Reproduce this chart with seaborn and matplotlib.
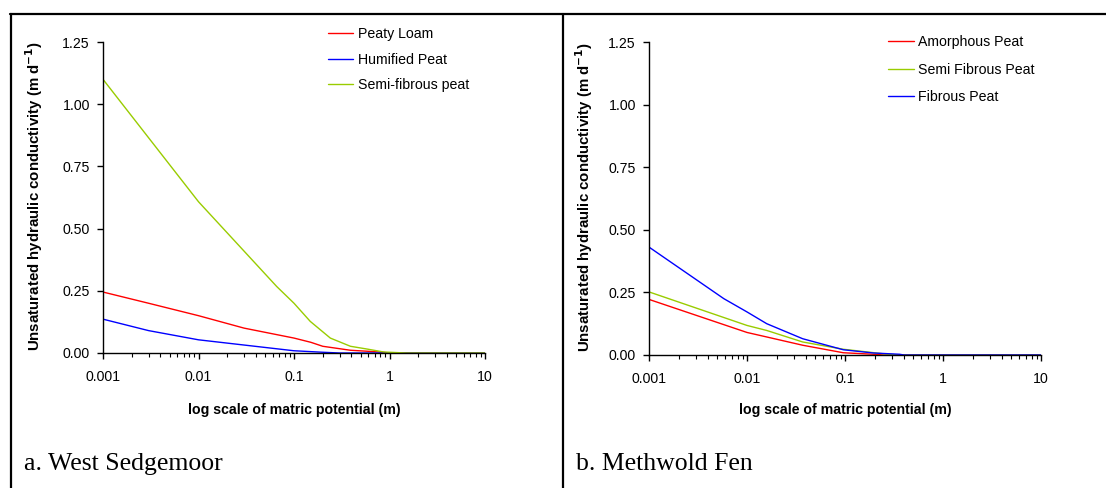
import numpy as np
import pandas as pd
import matplotlib
matplotlib.use("Agg")
import matplotlib.pyplot as plt
from matplotlib.lines import Line2D
from matplotlib.ticker import FixedLocator, FuncFormatter, LogLocator, NullFormatter
import seaborn as sns

# ---------------- data ----------------
# Panel a: West Sedgemoor
loam_x = [0.001, 0.003, 0.01, 0.03, 0.1, 0.15, 0.2, 0.39, 0.8, 1.0, 10]
loam_y = [0.245, 0.20, 0.15, 0.10, 0.06, 0.043, 0.027, 0.011, 0.004, 0.0, 0.0]
humified_x = [0.001, 0.003, 0.01, 0.03, 0.1, 0.2, 0.3, 10]
humified_y = [0.136, 0.09, 0.053, 0.032, 0.009, 0.003, 0.0, 0.0]
semifib_a_x = [0.001, 0.01, 0.066, 0.1, 0.148, 0.24, 0.39, 0.58, 0.87, 1.5, 10]
semifib_a_y = [1.10, 0.608, 0.267, 0.20, 0.127, 0.06, 0.027, 0.016, 0.004, 0.0, 0.0]
series_a = ["Peaty Loam", "Humified Peat", "Semi-fibrous peat"]

# Panel b: Methwold Fen
amorph_x = [0.001, 0.01, 0.0159, 0.037, 0.096, 0.195, 0.25, 10]
amorph_y = [0.222, 0.09, 0.072, 0.039, 0.009, 0.003, 0.0, 0.0]
semifib_b_x = [0.001, 0.01, 0.0159, 0.037, 0.096, 0.245, 0.35, 10]
semifib_b_y = [0.252, 0.118, 0.098, 0.052, 0.023, 0.005, 0.0, 0.0]
fibrous_x = [0.001, 0.0058, 0.01, 0.0159, 0.037, 0.096, 0.195, 0.36, 0.4, 10]
fibrous_y = [0.431, 0.225, 0.172, 0.125, 0.065, 0.021, 0.008, 0.003, 0.0, 0.0]
series_b = ["Amorphous Peat", "Semi Fibrous Peat", "Fibrous Peat"]

yticks = [0.0, 0.25, 0.5, 0.75, 1.0, 1.25]
xticks = [0.001, 0.01, 0.1, 1, 10]
xticklabels = ["0.001", "0.01", "0.1", "1", "10"]

RED = "#FF0000"
BLUE = "#0000FF"
GREEN = "#99CC00"

def long_df(names, xs, ys):
    rows = []
    for n, x, y in zip(names, xs, ys):
        for xi, yi in zip(x, y):
            rows.append((n, xi, yi))
    return pd.DataFrame(rows, columns=["series", "psi", "k"])

df_a = long_df(series_a, [loam_x, humified_x, semifib_a_x], [loam_y, humified_y, semifib_a_y])
df_b = long_df(series_b, [amorph_x, semifib_b_x, fibrous_x], [amorph_y, semifib_b_y, fibrous_y])

sns.set_theme(style="white")
plt.rcParams["font.family"] = ["Liberation Sans", "DejaVu Sans"]

fig = plt.figure(figsize=(11.06, 4.88), dpi=100)
ax_a = fig.add_axes([103/1106, 1-353/488, 382/1106, 311/488])
ax_b = fig.add_axes([649/1106, 1-355/488, 392/1106, 313/488])

def style(ax, df, names, colors, leg_anchor, labelspacing, ylab_x, xlab_y):
    sns.lineplot(data=df, x="psi", y="k", hue="series", hue_order=names,
                 palette=colors, estimator=None, sort=False, linewidth=1.0, ax=ax)
    ax.set_xscale("log")
    ax.set_xlim(0.001, 10)
    ax.set_ylim(0, 1.25)
    ax.xaxis.set_major_locator(FixedLocator(xticks))
    ax.xaxis.set_major_formatter(FuncFormatter(lambda v, p: xticklabels[xticks.index(v)] if v in xticks else ""))
    ax.xaxis.set_minor_locator(LogLocator(base=10, subs=np.arange(2, 10)))
    ax.xaxis.set_minor_formatter(NullFormatter())
    ax.yaxis.set_major_locator(FixedLocator(yticks))
    ax.yaxis.set_major_formatter(FuncFormatter(lambda v, p: f"{v:.2f}"))
    for s in ["top", "right"]:
        ax.spines[s].set_visible(False)
    for s in ["left", "bottom"]:
        ax.spines[s].set_color("black")
        ax.spines[s].set_linewidth(1.0)
    ax.tick_params(axis="both", which="major", direction="out", length=4, width=1,
                   color="black", labelsize=10.2, labelcolor="black", left=True, bottom=True)
    ax.tick_params(axis="x", which="minor", direction="out", length=3, width=0.8,
                   color="black", bottom=True)
    ax.tick_params(axis="y", pad=5.5)
    ax.tick_params(axis="x", pad=8)
    ax.set_xlabel("log scale of matric potential (m)", fontsize=10.2, fontweight="bold", color="black")
    ax.set_ylabel(r"Unsaturated hydraulic conductivity (m d$^{\mathbf{-1}}$)", fontsize=10.8,
                  fontweight="bold", color="black")
    ax.yaxis.set_label_coords(ylab_x, 0.505)
    ax.xaxis.set_label_coords(0.5, xlab_y)
    ax.grid(False)
    leg = ax.legend(loc="upper left", bbox_to_anchor=leg_anchor, frameon=False, fontsize=10.2,
                    handlelength=1.8, handletextpad=0.3, labelspacing=labelspacing,
                    borderpad=0, borderaxespad=0)
    for t in leg.get_texts():
        t.set_color("black")

style(ax_a, df_a, series_a, [RED, BLUE, GREEN], (0.589, 1.047), 0.8, -0.152, -0.161)
style(ax_b, df_b, series_b, [RED, GREEN, BLUE], (0.61, 1.022), 0.95, -0.138, -0.153)

# frame lines of the figure layout
lw = 1.6
fig.add_artist(Line2D([10/1106, 1.0], [1-14/488, 1-14/488], color="black", lw=lw, transform=fig.transFigure))
fig.add_artist(Line2D([11/1106, 11/1106], [0, 1-14/488], color="black", lw=lw, transform=fig.transFigure))
fig.add_artist(Line2D([562.5/1106, 562.5/1106], [0, 1-14/488], color="black", lw=lw, transform=fig.transFigure))

fig.text(24/1106, 1-470/488, "a. West Sedgemoor", fontsize=18.5, family=["Liberation Serif", "DejaVu Serif"],
         color="black", ha="left", va="baseline")
fig.text(576/1106, 1-470/488, "b. Methwold Fen", fontsize=18.5, family=["Liberation Serif", "DejaVu Serif"],
         color="black", ha="left", va="baseline")

fig.savefig("out.png", dpi=100, facecolor="white")
